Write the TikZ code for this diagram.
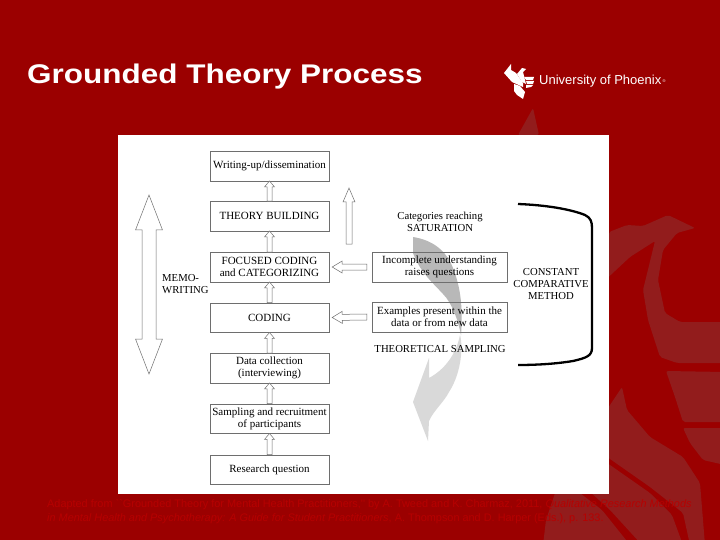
\documentclass[tikz,border=0pt]{standalone}
\usepackage{fontspec}
\setmainfont{Liberation Serif}
\newfontfamily\arialfont{Liberation Sans}
\usetikzlibrary{positioning,calc}
\definecolor{slidered}{HTML}{9B0000}
\definecolor{markred}{HTML}{921C1C}
\definecolor{noteRed}{HTML}{B60101}
\definecolor{boxline}{HTML}{6E6E6E}
\tikzset{stepbox/.style={draw=boxline,fill=white,minimum width=119pt,minimum height=29.5pt,inner sep=0pt,align=center,font=\fontsize{11}{11.8}\selectfont}}
\tikzset{sidebox/.style={draw=boxline,minimum width=135pt,minimum height=30pt,inner sep=0pt,align=center,font=\fontsize{11}{12}\selectfont}}
\tikzset{plain/.style={inner sep=0pt,align=center,font=\fontsize{10.7}{12}\selectfont}}
\tikzset{hollowline/.style={draw=boxline,line width=0.5pt,fill=white,line join=miter}}
\tikzset{markshape/.style={fill=markred,rounded corners=2pt}}
\newcommand{\hollowarrow}[5]{%
  \coordinate (hb) at ($(#2)!#5!(#1)$);
  \draw[hollowline] ($(#1)!#3!90:(#2)$) -- ($(hb)!#3!90:(#2)$) -- ($(hb)!#4!90:(#2)$) -- (#2) -- ($(hb)!#4!-90:(#2)$) -- ($(hb)!#3!-90:(#2)$) -- ($(#1)!#3!-90:(#2)$) -- cycle;
}
\newcommand{\hollowtwoway}[5]{%
  \coordinate (hb) at ($(#2)!#5!(#1)$);
  \coordinate (ha) at ($(#1)!#5!(#2)$);
  \draw[hollowline] (#1) -- ($(ha)!#4!-90:(#1)$) -- ($(ha)!#3!-90:(#1)$) -- ($(hb)!#3!90:(#2)$) -- ($(hb)!#4!90:(#2)$) -- (#2) -- ($(hb)!#4!-90:(#2)$) -- ($(hb)!#3!-90:(#2)$) -- ($(ha)!#3!90:(#1)$) -- ($(ha)!#4!90:(#1)$) -- cycle;
}
\begin{document}
\begin{tikzpicture}[x=1pt,y=-1pt]
    \useasboundingbox (0,0) rectangle (720,540);
    \fill[slidered] (0,0) rectangle (720,540);

    \fill[markshape] (533,108) -- (539,135) -- (518,135) -- cycle;
    \fill[markshape] (609,232) -- (627,225) -- (643,226) -- (668,215) -- (695,228) -- (677,233) -- (663,250) -- (658,280) -- (665,313) -- (680,322) -- (725,322) -- (725,363) -- (677,363) -- (660,357) -- (648,320) -- (643,290) -- (655,241) -- (630,257) -- (600,285) -- cycle;
    \fill[markshape] (666,371) -- (725,372) -- (725,422) -- (683,422) -- (675,397) -- cycle;
    \fill[markshape] (683,428) -- (725,428) -- (725,465) -- (703,460) -- (690,443) -- cycle;
    \fill[markshape] (622,387) -- (627,410) -- (650,437) -- (683,457) -- (700,483) -- (705,545) -- (690,545) -- (683,513) -- (650,487) -- (600,452) -- (600,420) -- cycle;
    \fill[markshape] (588,490) -- (600,458) -- (650,493) -- (672,515) -- (683,545) -- (642,545) -- (610,510) -- cycle;
    \fill[markshape] (543,545) -- (546,520) -- (556,490) -- (576,490) -- (602,510) -- (630,545) -- cycle;

    \node[inner sep=0pt,anchor=west,text=white,font=\arialfont\fontsize{27}{30}\selectfont\bfseries] (title) at (27,76.5) {\scalebox{1.166}[1]{Grounded Theory Process}};

    \fill[white] (504,73) -- (511,64) -- (511,70) -- (516,73) -- (523,83) -- (523,87) -- (512,82) -- cycle;
    \fill[white] (517,74) -- (522,68) -- (526,69) -- (523,72) -- (526,84) -- (522,82) -- cycle;
    \fill[white] (524,77) -- (534,77) -- (533,80) -- (526,80) -- cycle;
    \fill[white] (526,81) -- (534,81) -- (533,84) -- (527,84) -- cycle;
    \fill[white] (526,85) -- (533,85) -- (531,87) -- (526,88) -- cycle;
    \fill[white] (514,84) -- (520,86) -- (525,92) -- (523,99) -- (517,95) -- (514,91) -- cycle;
    \node[inner sep=0pt,anchor=west,text=white,font=\arialfont\fontsize{13}{15}\selectfont] (logo) at (539,81.5) {University of Phoenix};
    \node[inner sep=0pt,text=white,font=\arialfont\fontsize{4}{5}\selectfont,right=1pt of logo] (reg) {®};

    \fill[white] (118,135) rectangle (609,494);

    \fill[black!28] (413,237) .. controls (432,240) and (446,250) .. (453,268) .. controls (461,288) and (463,310) .. (461,335) .. controls (458,320) and (452,303) .. (443,294) .. controls (432,282) and (420,272) .. (413,253) -- cycle;
    \fill[black!15] (460,335) .. controls (463,345) and (462,372) .. (449,392) .. controls (444,402) and (434,410) .. (429,421) -- (428,441) -- (413,402) -- (429,358) -- (429,378) .. controls (444,370) and (456,355) .. (460,335) -- cycle;

    \node[stepbox] (write) at (269.5,166) {Writing-up/dissemination};
    \node[stepbox] (theory) at (269.5,216) {THEORY BUILDING};
    \node[stepbox] (focus) at (269.5,267) {FOCUSED CODING\\and CATEGORIZING};
    \node[stepbox] (code) at (269.5,317.5) {CODING};
    \node[stepbox] (data) at (269.5,368) {Data collection\\(interviewing)};
    \node[stepbox] (sample) at (269.5,418.5) {Sampling and recruitment\\of participants};
    \node[stepbox] (question) at (269.5,469.5) {Research question};

    \node[sidebox] (incomplete) at (439.5,267) {Incomplete understanding\\raises questions};
    \node[sidebox] (examples) at (439.5,317) {Examples present within the\\data or from new data};

    \node[plain] (saturation) at (440,221.5) {Categories reaching\\SATURATION};
    \node[plain] (sampling) at (440,349) {THEORETICAL SAMPLING};
    \node[plain] (method) at (551,284) {CONSTANT\\COMPARATIVE\\METHOD};
    \node[plain,align=left,anchor=west] (memo) at (162,284) {MEMO-\\WRITING};

    \hollowarrow{question.north}{sample.south}{2.5pt}{5pt}{6pt}
    \hollowarrow{sample.north}{data.south}{2.5pt}{5pt}{6pt}
    \hollowarrow{data.north}{code.south}{2.5pt}{5pt}{6pt}
    \hollowarrow{code.north}{focus.south}{2.5pt}{5pt}{6pt}
    \hollowarrow{focus.north}{theory.south}{2.5pt}{5pt}{6pt}
    \hollowarrow{theory.north}{write.south}{2.5pt}{5pt}{6pt}

    \coordinate (lowtail) at ($(incomplete.west)+(-5,0)$);
    \coordinate (lowtip) at ($(focus.east)+(3,0)$);
    \coordinate (hightail) at ($(examples.west)+(-5,0)$);
    \coordinate (hightip) at ($(code.east)+(3,0)$);
    \hollowarrow{lowtail}{lowtip}{3pt}{6pt}{10pt}
    \hollowarrow{hightail}{hightip}{3pt}{6pt}{10pt}

    \coordinate (risebot) at (349,244);
    \coordinate (risetop) at (349,188);
    \hollowarrow{risebot}{risetop}{3pt}{6pt}{14pt}

    \coordinate (memotop) at (149,195);
    \coordinate (memobot) at (149,374);
    \hollowtwoway{memobot}{memotop}{7pt}{13.5pt}{35pt}

    \coordinate (brackettop) at (518,204);
    \coordinate (bracketbot) at (518,365);
    \draw[line width=2.3pt] (brackettop) .. controls (545,205) and (570,209) .. (585,215) .. controls (591,218) and (592,222) .. (592,228) -- (592,348) .. controls (592,356) and (586,358) .. (573,361) .. controls (555,364) and (535,365) .. (bracketbot);

    \node[inner sep=0pt,anchor=north west,text=noteRed,align=left,font=\arialfont\fontsize{10.9}{14.5}\selectfont] (note) at (47,499) {Adapted from ``Grounded Theory for Mental Health Practitioners,'' by A. Tweed and K. Charmaz, 2011, \textit{Qualitative Research Methods}\\\textit{in Mental Health and Psychotherapy: A Guide for Student Practitioners}, A. Thompson and D. Harper (Eds.), p. 133.};
\end{tikzpicture}
\end{document}
